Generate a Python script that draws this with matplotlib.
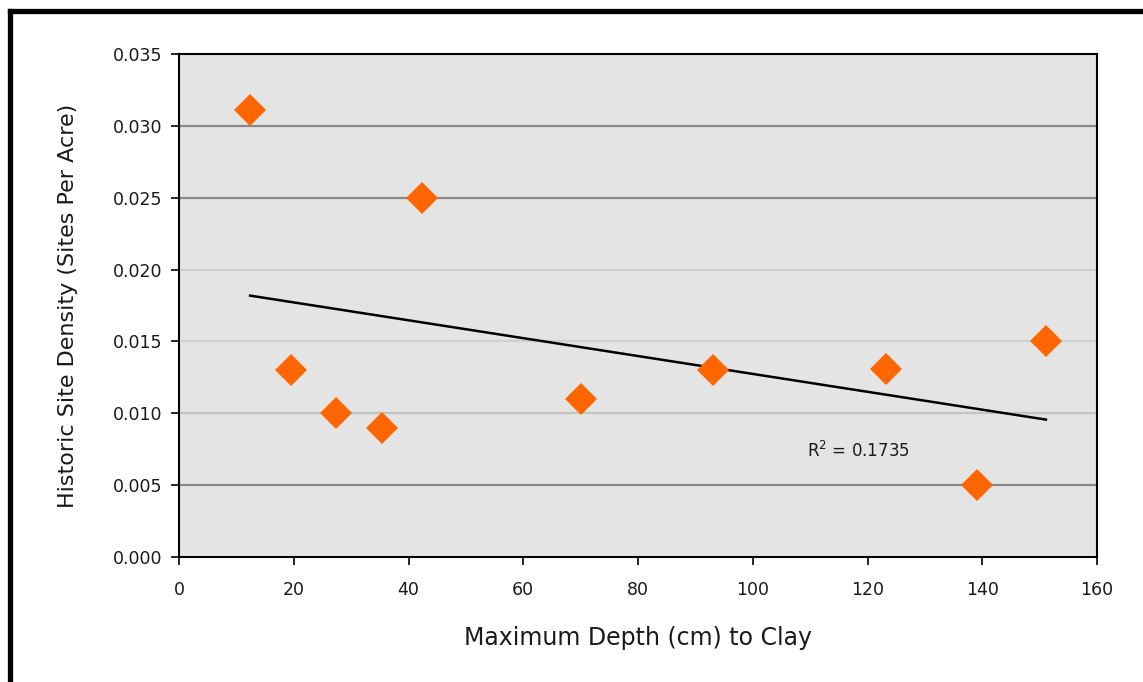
import numpy as np
import matplotlib
matplotlib.use("Agg")
import matplotlib.pyplot as plt
from matplotlib.lines import Line2D

# Data
depth_cm = [12.4, 19.5, 27.4, 35.4, 42.4, 70.1, 93.1, 123.2, 139.1, 151.1]
site_density = [0.0311, 0.0130, 0.0100, 0.0090, 0.0250, 0.0110, 0.0130, 0.0131, 0.0050, 0.0150]
x_ticks = [0, 20, 40, 60, 80, 100, 120, 140, 160]
y_ticks = [0.000, 0.005, 0.010, 0.015, 0.020, 0.025, 0.030, 0.035]
r2_label = "R$^2$ = 0.1735"

W, H = 1143, 682
fig = plt.figure(figsize=(W / 100, H / 100), dpi=100)
fig.patch.set_facecolor("white")

ax = fig.add_axes([179 / W, 1 - 557 / H, (1097 - 179) / W, (557 - 54) / H])
ax.set_facecolor("#e4e4e4")
ax.set_xlim(0, 160)
ax.set_ylim(0, 0.035)
ax.set_xticks(x_ticks)
ax.set_yticks(y_ticks)
ax.set_xticklabels([str(t) for t in x_ticks])
ax.set_yticklabels([f"{t:.3f}" for t in y_ticks])

# gridlines (some darker, some lighter as in the reference)
grid_colors = {0.005: "#8a8a8a", 0.010: "#c4c4c4", 0.015: "#d0d0d0",
               0.020: "#cccccc", 0.025: "#8a8a8a", 0.030: "#8a8a8a"}
for yv, c in grid_colors.items():
    ax.axhline(yv, color=c, lw=1.6, zorder=1)

for s in ax.spines.values():
    s.set_color("black")
    s.set_linewidth(1.5)

ax.tick_params(axis="both", direction="out", length=6, width=1.2, color="black",
               labelsize=12.5, labelcolor="#1a1a1a")
ax.tick_params(axis="y", pad=6)
ax.tick_params(axis="x", pad=11)

# trend line
xs = np.array(depth_cm)
ys = np.array(site_density)
m, b = np.polyfit(xs, ys, 1)
xl = np.array([xs.min(), xs.max()])
ax.plot(xl, m * xl + b, color="black", lw=1.8, zorder=3)

ax.plot(depth_cm, site_density, linestyle="none", marker="D", markersize=16,
        color="#ff6600", markeredgewidth=0, zorder=4)

ax.text(109.5, 0.0074, r2_label, fontsize=12, color="#1a1a1a", ha="left", va="center")

ax.set_xlabel("Maximum Depth (cm) to Clay", fontsize=17, labelpad=20, color="#1a1a1a")
ax.set_ylabel("Historic Site Density (Sites Per Acre)", fontsize=16, labelpad=25, color="#1a1a1a")

# outer frame lines (top and left)
fig.add_artist(Line2D([9.5 / W, 1], [1 - 10.5 / H, 1 - 10.5 / H], transform=fig.transFigure,
                      color="black", lw=3.8))
fig.add_artist(Line2D([9.5 / W, 9.5 / W], [0, 1 - 10.5 / H], transform=fig.transFigure,
                      color="black", lw=3.8))

fig.savefig("out.png", dpi=100)
